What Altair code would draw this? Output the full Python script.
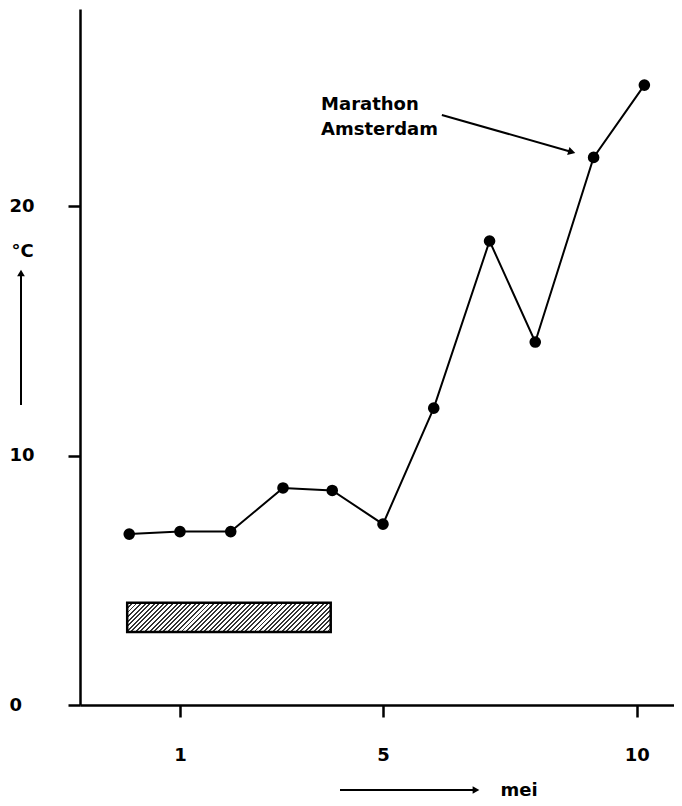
import math
import altair as alt
import pandas as pd

# ---- data ----
days = [0.0, 1.0, 2.0, 3.03, 4.0, 5.0, 6.0, 7.1, 8.0, 9.15, 10.15]
temps = [6.85, 6.95, 6.95, 8.7, 8.6, 7.25, 11.9, 18.6, 14.55, 21.95, 24.85]

bar_start, bar_end = -0.04, 3.97
bar_low, bar_high = 2.93, 4.1

x_ticks = [1, 5, 10]
y_ticks = [0, 10, 20]

note_lines = ["Marathon", "Amsterdam"]
note_x = [3.78, 3.78]
note_y = [24.05, 23.05]
arrow_x = [6.16, 8.72]
arrow_y = [23.65, 22.17]

x_domain = [-0.97, 10.734]
y_domain = [0, 27.9]
W, H = 594, 696
FONT = "DejaVu Sans"
FS = 18

# ---- tables ----
line_df = pd.DataFrame({"day": days, "temp": temps})
bar_df = pd.DataFrame({"x": [bar_start], "x2": [bar_end], "y": [bar_low], "y2": [bar_high]})
note_df = pd.DataFrame({"day": note_x, "temp": note_y, "label": note_lines})
arrow_df = pd.DataFrame({"x": [arrow_x[0]], "y": [arrow_y[0]], "x2": [arrow_x[1]], "y2": [arrow_y[1]]})
head_df = pd.DataFrame({"day": [arrow_x[1]], "temp": [arrow_y[1]]})

xs = alt.Scale(domain=x_domain, nice=False, zero=False)
ys = alt.Scale(domain=y_domain, nice=False, zero=False)

xa = alt.Axis(values=x_ticks, grid=False, title="mei", domainColor="black", domainWidth=2.5,
              tickColor="black", tickWidth=2.5, tickSize=12, labelPadding=29,
              labelFont=FONT, labelFontSize=FS, labelFontWeight="bold", labelColor="black",
              titleFont=FONT, titleFontSize=FS, titleFontWeight="bold", titleColor="black",
              titleX=420, titleY=85, titleAlign="left", titleBaseline="middle", titleAngle=0,
              labelFlush=False, labelOverlap=False)
ya = alt.Axis(values=y_ticks, grid=False, title="°C", domainColor="black", domainWidth=2.5,
              tickColor="black", tickWidth=2.5, tickSize=12, labelPadding=59, labelAlign="left",
              labelFont=FONT, labelFontSize=FS, labelFontWeight="bold", labelColor="black",
              titleFont=FONT, titleFontSize=FS, titleFontWeight="bold", titleColor="black",
              titleX=-58, titleY=242, titleAlign="center", titleBaseline="middle", titleAngle=0,
              labelFlush=False, labelOverlap=False)


def X(f):
    return alt.X(f, type="quantitative", scale=xs, axis=xa)


def Y(f):
    return alt.Y(f, type="quantitative", scale=ys, axis=ya)


# hatch fill via striped linear gradient
def hatch_fill(wpx, hpx, period=3.2, dark=0.42):
    L = (wpx + hpx) / math.sqrt(2)
    n = max(1, round(L / period))
    s = (1 / hpx + 1 / wpx) / (1 / hpx ** 2 + 1 / wpx ** 2)
    stops = []
    for i in range(n):
        a = round(i / n, 5)
        b = round((i + dark) / n, 5)
        c = round((i + 1) / n, 5)
        stops += [{"offset": a, "color": "#333333"}, {"offset": b, "color": "#333333"},
                  {"offset": b, "color": "#ffffff"}, {"offset": c, "color": "#ffffff"}]
    return {"gradient": "linear", "x1": 0, "y1": 0, "x2": round(s / hpx, 5), "y2": round(s / wpx, 5),
            "stops": stops}


px_per_x = W / (x_domain[1] - x_domain[0])
px_per_y = H / (y_domain[1] - y_domain[0])
bar_w = (bar_end - bar_start) * px_per_x
bar_h = (bar_high - bar_low) * px_per_y

bar = alt.Chart(bar_df).mark_rect(fill=hatch_fill(bar_w, bar_h), stroke="black", strokeWidth=2.5).encode(
    x=X("x"), x2="x2", y=Y("y"), y2="y2")

line = alt.Chart(line_df).mark_line(color="black", strokeWidth=2).encode(x=X("day"), y=Y("temp"))
dots = alt.Chart(line_df).mark_circle(color="black", size=135, opacity=1).encode(x=X("day"), y=Y("temp"))

note = alt.Chart(note_df).mark_text(align="left", baseline="middle", font=FONT, fontSize=FS,
                                     fontWeight="bold", color="black").encode(
    x=X("day"), y=Y("temp"), text="label")

arrow = alt.Chart(arrow_df).mark_rule(color="black", strokeWidth=2).encode(
    x=X("x"), y=Y("y"), x2="x2", y2="y2")
head = alt.Chart(head_df).mark_point(shape="triangle-right", filled=True, color="black", size=70,
                                     opacity=1, angle=16).encode(x=X("day"), y=Y("temp"))

# decorative direction arrows next to the axis titles (pixel space)
up_rule = alt.Chart(head_df).mark_rule(color="black", strokeWidth=2).encode(
    x=alt.value(-59), y=alt.value(396), y2=alt.value(266))
up_head = alt.Chart(head_df).mark_point(shape="triangle-up", filled=True, color="black", size=60,
                                        opacity=1).encode(x=alt.value(-59), y=alt.value(264))
right_rule = alt.Chart(head_df).mark_rule(color="black", strokeWidth=2).encode(
    x=alt.value(260), x2=alt.value(394), y=alt.value(781))
right_head = alt.Chart(head_df).mark_point(shape="triangle-right", filled=True, color="black", size=60,
                                           opacity=1).encode(x=alt.value(396), y=alt.value(781))

chart = alt.layer(bar, line, dots, note, arrow, head, up_rule, up_head, right_rule, right_head).properties(
    width=W, height=H,
    autosize=alt.AutoSizeParams(type="none"),
    padding={"left": 72, "top": 1, "right": 0, "bottom": 93},
    background="white",
).configure_view(stroke=None)

chart.save("out.html", embed_options={"renderer": "svg", "actions": False})
